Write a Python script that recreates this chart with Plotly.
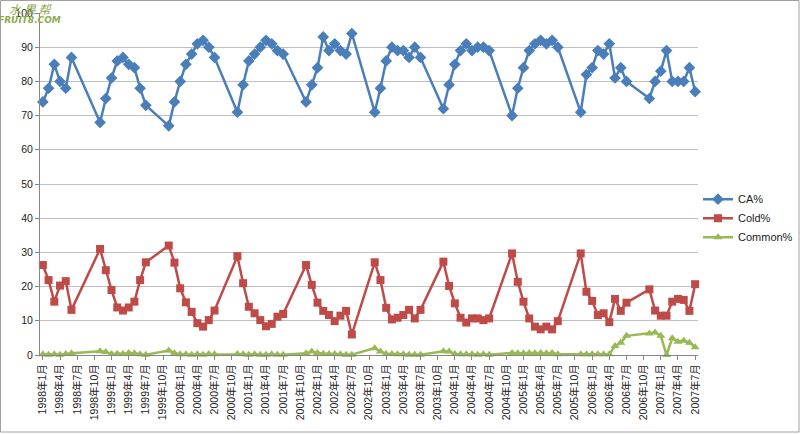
import plotly.graph_objects as go

# ---- data ----
months = [
    "1998-01", "1998-02", "1998-03", "1998-04", "1998-05", "1998-06",
    "1998-11", "1998-12", "1999-01", "1999-02", "1999-03", "1999-04", "1999-05", "1999-06", "1999-07",
    "1999-11", "1999-12", "2000-01", "2000-02", "2000-03", "2000-04", "2000-05", "2000-06", "2000-07",
    "2000-11", "2000-12", "2001-01", "2001-02", "2001-03", "2001-04", "2001-05", "2001-06", "2001-07",
    "2001-11", "2001-12", "2002-01", "2002-02", "2002-03", "2002-04", "2002-05", "2002-06", "2002-07",
    "2002-11", "2002-12", "2003-01", "2003-02", "2003-03", "2003-04", "2003-05", "2003-06", "2003-07",
    "2003-11", "2003-12", "2004-01", "2004-02", "2004-03", "2004-04", "2004-05", "2004-06", "2004-07",
    "2004-11", "2004-12", "2005-01", "2005-02", "2005-03", "2005-04", "2005-05", "2005-06", "2005-07",
    "2005-11", "2005-12", "2006-01", "2006-02", "2006-03", "2006-04", "2006-05", "2006-06", "2006-07",
    "2006-11", "2006-12", "2007-01", "2007-02", "2007-03", "2007-04", "2007-05", "2007-06", "2007-07",
]

ca_pct = [
    74, 78, 85, 80, 78, 87,
    68, 75, 81, 86, 87, 85, 84, 78, 73,
    67, 74, 80, 85, 88, 91, 92, 90, 87,
    71, 79, 86, 88, 90, 92, 91, 89, 88,
    74, 79, 84, 93, 89, 91, 89, 88, 94,
    71, 78, 86, 90, 89, 89, 87, 90, 87,
    72, 79, 85, 89, 91, 89, 90, 90, 89,
    70, 78, 84, 89, 91, 92, 91, 92, 90,
    71, 82, 84, 89, 88, 91, 81, 84, 80,
    75, 80, 83, 89, 80, 80, 80, 84, 77,
]

cold_pct = [
    26.3, 21.9, 15.6, 20.3, 21.6, 13.2,
    31.0, 24.8, 19.0, 13.9, 13.0, 13.9, 15.6, 21.9, 27.1,
    32.0, 27.0, 19.5, 15.4, 12.6, 9.3, 8.3, 10.2, 13.0,
    28.9, 21.0, 14.1, 12.2, 10.2, 8.4, 9.1, 11.2, 12.0,
    26.3, 20.5, 15.3, 12.9, 11.7, 9.9, 11.5, 12.9, 6.0,
    27.1, 21.9, 13.8, 10.4, 10.9, 11.7, 13.2, 10.7, 13.2,
    27.3, 20.2, 15.1, 10.9, 9.5, 10.7, 10.7, 10.2, 10.7,
    29.7, 21.4, 15.6, 10.7, 8.3, 7.5, 8.3, 7.5, 9.9,
    29.7, 18.5, 15.8, 11.7, 12.2, 9.6, 16.4, 12.9, 15.3,
    19.2, 13.0, 11.5, 11.5, 15.6, 16.4, 16.1, 12.9, 20.7,
]

common_pct = [
    0.2, 0.1, 0.2, 0.1, 0.3, 0.5,
    1.1, 0.9, 0.3, 0.4, 0.3, 0.6, 0.5, 0.2, 0.1,
    1.3, 0.5, 0.2, 0.2, 0.1, 0.2, 0.1, 0.3, 0.2,
    0.3, 0.2, 0.1, 0.2, 0.1, 0.1, 0.2, 0.1, 0.1,
    0.5, 1.0, 0.6, 0.4, 0.3, 0.3, 0.2, 0.1, 0.1,
    2.0, 1.0, 0.4, 0.3, 0.2, 0.2, 0.1, 0.1, 0.1,
    1.1, 1.0, 0.3, 0.2, 0.2, 0.2, 0.1, 0.2, 0.1,
    0.6, 0.5, 0.5, 0.6, 0.5, 0.6, 0.5, 0.6, 0.2,
    0.2, 0.2, 0.2, 0.2, 0.2, 0.2, 2.6, 3.6, 5.6,
    6.3, 6.6, 5.6, 0.0, 4.9, 3.9, 4.2, 3.6, 2.3,
]

tick_labels = [
    "1998年1月", "1998年4月", "1998年7月", "1998年10月",
    "1999年1月", "1999年4月", "1999年7月", "1999年10月",
    "2000年1月", "2000年4月", "2000年7月", "2000年10月",
    "2001年1月", "2001年4月", "2001年7月", "2001年10月",
    "2002年1月", "2002年4月", "2002年7月", "2002年10月",
    "2003年1月", "2003年4月", "2003年7月", "2003年10月",
    "2004年1月", "2004年4月", "2004年7月", "2004年10月",
    "2005年1月", "2005年4月", "2005年7月", "2005年10月",
    "2006年1月", "2006年4月", "2006年7月", "2006年10月",
    "2007年1月", "2007年4月", "2007年7月",
]

series_names = ["CA%", "Cold%", "Common%"]
colors = ["#4A7EBB", "#BE4B48", "#98B954"]
symbols = ["diamond", "square", "triangle-up"]
sizes = [9, 8, 8]


def month_index(s):
    y, m = s.split("-")
    return (int(y) - 1998) * 12 + int(m) - 1


def label_index(lbl):
    y, rest = lbl.split("年")
    m = rest.replace("月", "")
    return (int(y) - 1998) * 12 + int(m) - 1


x = [month_index(s) for s in months]
tick_vals = [label_index(l) for l in tick_labels]

FONT = "Liberation Sans, Arial, Noto Sans CJK SC, sans-serif"

fig = go.Figure()
for name, vals, col, sym, sz in zip(series_names, [ca_pct, cold_pct, common_pct], colors, symbols, sizes):
    fig.add_trace(go.Scatter(
        x=x, y=vals, name=name, mode="lines+markers",
        line=dict(color=col, width=2.5),
        marker=dict(symbol=sym, size=sz, color=col),
        cliponaxis=False,
    ))

fig.update_layout(
    width=800, height=434,
    margin=dict(l=40, r=102, t=13, b=79, autoexpand=False),
    paper_bgcolor="white", plot_bgcolor="white",
    font=dict(family=FONT, size=11, color="#222222"),
    showlegend=True,
    legend=dict(x=1.0, y=0.40, xanchor="left", yanchor="middle",
                font=dict(size=11, color="#222222"), bgcolor="rgba(0,0,0,0)",
                itemwidth=30, tracegroupgap=2),
    xaxis=dict(
        range=[-0.5, 114.5], tickmode="array", tickvals=tick_vals, ticktext=tick_labels,
        tickangle=-90, tickfont=dict(size=10.5, family=FONT, color="#222222"),
        showgrid=False, zeroline=False, showline=True, linecolor="#868686", linewidth=1,
        ticks="outside", ticklen=4, tickcolor="#868686", automargin=False,
    ),
    yaxis=dict(
        range=[0, 100], dtick=10, tickfont=dict(size=10.5, family=FONT, color="#222222"),
        showgrid=True, gridcolor="#BFBFBF", gridwidth=1, zeroline=False,
        showline=True, linecolor="#868686", linewidth=1,
        ticks="outside", ticklen=4, tickcolor="#868686", automargin=False,
    ),
)

# outer chart border
fig.add_shape(type="rect", xref="paper", yref="paper",
              x0=(0.5 - 40) / 658, x1=(799 - 40) / 658,
              y0=(355 - 432) / 342, y1=(355 - 0.5) / 342,
              line=dict(color="#A0A0A0", width=1), fillcolor="rgba(0,0,0,0)", layer="below")

# watermark
fig.add_annotation(xref="paper", yref="paper", x=(30 - 40) / 658, y=(355 - 8) / 342,
                   xanchor="center", yanchor="middle",
                   text="<i>水 果 帮</i>", showarrow=False,
                   font=dict(size=12, color="#8DAA4E", family="Noto Sans CJK SC"))
fig.add_annotation(xref="paper", yref="paper", x=(29 - 40) / 658, y=(355 - 20) / 342,
                   xanchor="center", yanchor="middle",
                   text="<b><i>FRUIT8.COM</i></b>", showarrow=False,
                   font=dict(size=9, color="#8DAA4E", family="DejaVu Sans"))

fig.write_html("out.html")
